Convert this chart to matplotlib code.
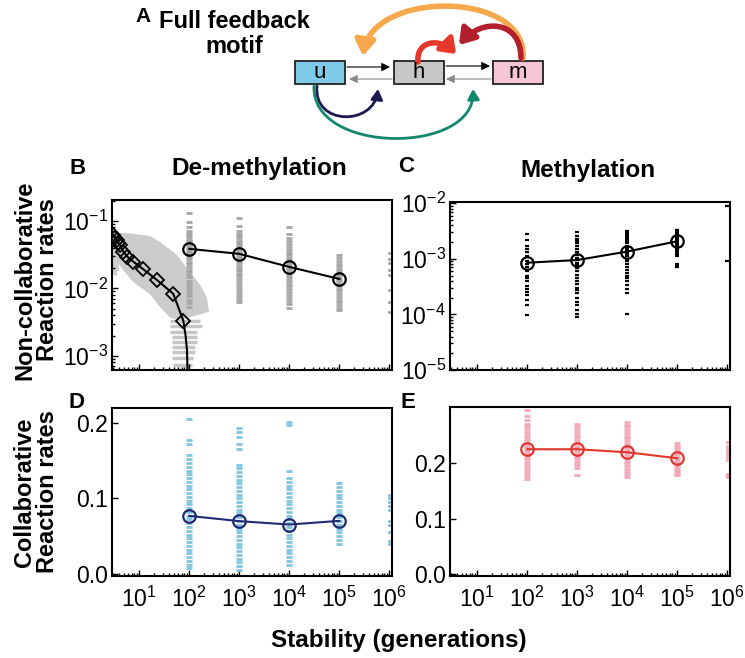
import numpy as np
import matplotlib
matplotlib.use('Agg')
import matplotlib.pyplot as plt
from matplotlib.patches import FancyArrowPatch, Rectangle
from matplotlib.path import Path
from matplotlib.ticker import LogLocator, NullFormatter

plt.rcParams['font.family'] = ['Liberation Sans', 'DejaVu Sans']
plt.rcParams['mathtext.fontset'] = 'custom'
plt.rcParams['mathtext.rm'] = 'Liberation Sans'
plt.rcParams['mathtext.it'] = 'Liberation Sans:italic'
plt.rcParams['mathtext.bf'] = 'Liberation Sans:bold'

################################################################################
# data
stab = [1e2, 1e3, 1e4, 1e5]          # stability (generations) of the columns
stab_tail = 1e6                     # sparse points at the right edge
x_ticks = [1e1, 1e2, 1e3, 1e4, 1e5, 1e6]
x_ticklabels = ['$10^{1}$', '$10^{2}$', '$10^{3}$', '$10^{4}$', '$10^{5}$', '$10^{6}$']

# B: de-methylation, non-collaborative
b_mean = [0.0385, 0.0325, 0.0208, 0.0138]
b_diam_x = [2.94, 3.27, 3.53, 3.8, 4.1, 4.79, 5.75, 7.6, 11.7, 22.3, 47.9, 75.9]
b_diam_y = [0.0621, 0.0566, 0.0524, 0.0478, 0.0441, 0.0351, 0.0296, 0.0249,
            0.0195, 0.0134, 0.0083, 0.00333]
b_tail_x = [83.9, 89.9, 92.9]
b_tail_y = [0.00205, 0.00123, 0.0005]
b_cloud_x = [2.84, 5.17, 16.4, 25.9, 56.8, 103, 164, 226, 248,
             65.2, 41.1, 25.9, 16.4, 7.48, 4.11, 2.84]
b_cloud_y = [0.0664, 0.0664, 0.060, 0.0489, 0.0313, 0.0175, 0.0113, 0.00723, 0.00449,
             0.0034, 0.0037, 0.0053, 0.0082, 0.0125, 0.0215, 0.0420]
b_streak_y = [0.0033, 0.00278, 0.00227, 0.00191, 0.00161, 0.00136, 0.00115, 0.00093, 0.00074]
b_streak_x0 = [41.1, 41.1, 41.1, 45.1, 45.1, 45.1, 45.1, 45.1, 47.2]
b_streak_x1 = [164, 180, 143, 143, 143, 130, 130, 118, 113]
b_edge_x = [3.1, 3.4, 3.7]
b_edge_y0 = [0.044, 0.042, 0.04]
b_edge_y1 = [0.016, 0.015, 0.018]
b_ticks = [1e-3, 1e-2, 1e-1]
b_ticklabels = ['$10^{-3}$', '$10^{-2}$', '$10^{-1}$']
b_pts = [
    [0.13, 0.095, 0.08, 0.072, 0.066, 0.061, 0.057, 0.053, 0.05, 0.047, 0.044, 0.041,
     0.039, 0.037, 0.035, 0.033, 0.031, 0.029, 0.027, 0.025, 0.023, 0.021, 0.019,
     0.0175, 0.016, 0.0145, 0.013, 0.0118, 0.0106, 0.0095, 0.0085, 0.0076, 0.0068,
     0.006, 0.0053],
    [0.11, 0.085, 0.072, 0.065, 0.06, 0.055, 0.051, 0.047, 0.044, 0.041, 0.038, 0.035,
     0.033, 0.031, 0.029, 0.027, 0.025, 0.023, 0.021, 0.0195, 0.018, 0.0165, 0.015,
     0.0137, 0.0125, 0.0113, 0.0102, 0.0092, 0.0083, 0.0075, 0.0068, 0.0062],
    [0.08, 0.064, 0.056, 0.05, 0.045, 0.041, 0.037, 0.034, 0.031, 0.028, 0.026, 0.024,
     0.022, 0.0202, 0.0185, 0.017, 0.0155, 0.0142, 0.013, 0.0118, 0.0107, 0.0097,
     0.0088, 0.008, 0.0072, 0.0065, 0.0058, 0.0052],
    [0.031, 0.028, 0.0255, 0.0233, 0.0213, 0.0195, 0.0178, 0.0163, 0.015, 0.0138,
     0.0127, 0.0117, 0.0107, 0.0098, 0.009, 0.0082, 0.0075, 0.0068, 0.0062, 0.0056,
     0.0051, 0.0047],
]
b_pts_tail = [0.034, 0.027, 0.024, 0.019, 0.016, 0.0095, 0.0062, 0.0045]

# C: methylation, non-collaborative
c_mean = [0.00085, 0.00095, 0.00135, 0.00207]
c_ticks = [1e-5, 1e-4, 1e-3, 1e-2]
c_ticklabels = ['$10^{-5}$', '$10^{-4}$', '$10^{-3}$', '$10^{-2}$']
c_pts = [
    [0.00283, 0.00216, 0.0017, 0.00149, 0.0013, 0.00113, 0.00092, 0.0008, 0.0007,
     0.00061, 0.0005, 0.00045, 0.0004, 0.00033, 0.00029, 0.00025, 0.00022, 0.000178,
     0.000145, 0.000096],
    [0.003, 0.0026, 0.0023, 0.0021, 0.0019, 0.0017, 0.0015, 0.0013, 0.00115, 0.00105,
     0.00095, 0.00085, 0.00076, 0.00068, 0.0006, 0.00052, 0.00046, 0.0004, 0.00035,
     0.0003, 0.00027, 0.00024, 0.0002, 0.00017, 0.00015, 0.00012, 0.0001, 0.00009],
    [0.0031, 0.0029, 0.0027, 0.0025, 0.0023, 0.0021, 0.0019, 0.0017, 0.0016, 0.0015,
     0.0014, 0.0013, 0.0012, 0.0011, 0.001, 0.0009, 0.0008, 0.0007, 0.00062, 0.00055,
     0.0005, 0.00045, 0.0004, 0.00034, 0.00029, 0.00024, 0.0001],
    [0.0033, 0.0031, 0.0029, 0.0027, 0.0025, 0.0024, 0.0023, 0.0022, 0.0021, 0.002,
     0.0019, 0.0018, 0.0017, 0.0016, 0.0015, 0.0014, 0.0013, 0.0012, 0.0011, 0.00082,
     0.00076, 0.0007],
]
c_pts_tail = [0.0088, 0.00092]

# D: de-methylation, collaborative
d_mean = [0.0768, 0.0698, 0.0653, 0.0702]
d_pts = [
    [0.205, 0.178, 0.172, 0.157, 0.152, 0.147, 0.142, 0.137, 0.132, 0.127, 0.122, 0.117,
     0.112, 0.107, 0.102, 0.097, 0.092, 0.087, 0.082, 0.077, 0.072, 0.067, 0.062, 0.057,
     0.052, 0.047, 0.042, 0.037, 0.032, 0.027, 0.022, 0.017, 0.012, 0.007],
    [0.193, 0.188, 0.182, 0.172, 0.165, 0.145, 0.14, 0.135, 0.13, 0.125, 0.12, 0.115,
     0.11, 0.105, 0.1, 0.095, 0.09, 0.085, 0.08, 0.075, 0.07, 0.065, 0.06, 0.055, 0.05,
     0.045, 0.04, 0.035, 0.03, 0.025, 0.02, 0.015, 0.01, 0.005],
    [0.202, 0.197, 0.137, 0.127, 0.122, 0.117, 0.112, 0.107, 0.102, 0.097, 0.092, 0.087,
     0.082, 0.077, 0.072, 0.067, 0.062, 0.057, 0.052, 0.047, 0.042, 0.037, 0.032, 0.027,
     0.022, 0.017, 0.012],
    [0.12, 0.115, 0.11, 0.105, 0.1, 0.095, 0.09, 0.085, 0.08, 0.075, 0.07, 0.065, 0.06,
     0.055, 0.05, 0.045, 0.04],
]
d_pts_tail = [0.105, 0.1, 0.095, 0.09, 0.085, 0.07, 0.065, 0.055, 0.043, 0.04]

# E: methylation, collaborative
e_mean = [0.2255, 0.2255, 0.220, 0.2092]
e_pts = [
    [0.297, 0.285, 0.278, 0.272, 0.267, 0.262, 0.257, 0.252, 0.247, 0.242, 0.237, 0.232,
     0.227, 0.222, 0.217, 0.212, 0.207, 0.202, 0.197, 0.192, 0.187, 0.182, 0.177, 0.172],
    [0.272, 0.267, 0.262, 0.257, 0.252, 0.247, 0.242, 0.237, 0.232, 0.227, 0.222, 0.217,
     0.212, 0.207, 0.202, 0.197, 0.192, 0.178],
    [0.275, 0.27, 0.265, 0.26, 0.255, 0.25, 0.245, 0.24, 0.235, 0.23, 0.225, 0.22,
     0.215, 0.21, 0.205, 0.2, 0.195, 0.19, 0.185, 0.18, 0.176],
    [0.236, 0.232, 0.228, 0.224, 0.22, 0.216, 0.212, 0.208, 0.204, 0.2, 0.196, 0.192,
     0.188, 0.184, 0.18, 0.178],
]
e_pts_tail = [0.238, 0.232, 0.226, 0.221, 0.216, 0.211, 0.206, 0.181, 0.177, 0.175]

lin_ticks = [0.0, 0.1, 0.2]
lin_ticklabels = ['0.0', '0.1', '0.2']
xlims = (2.85, 1.13e6)


################################################################################
def strips(ax, xs, ys, color, ms=4.5, mew=2.0):
    for x, yv in zip(xs, ys):
        ax.plot(np.full(len(yv), x), yv, ls='none', marker='_', ms=ms, mew=mew,
                color=color, zorder=2)


def style(ax, labelbottom):
    for sp in ax.spines.values():
        sp.set_linewidth(1.5)
    ax.set_xscale('log')
    ax.set_xlim(*xlims)
    ax.set_xticks(x_ticks)
    ax.xaxis.set_minor_locator(LogLocator(base=10, subs=np.arange(2, 10), numticks=20))
    ax.xaxis.set_minor_formatter(NullFormatter())
    if labelbottom:
        ax.set_xticklabels(x_ticklabels, fontsize=16.5)
    else:
        ax.set_xticklabels([])
    ax.tick_params(which='both', direction='in', top=False, right=False, width=1)
    ax.tick_params(which='major', length=4)
    ax.tick_params(which='minor', length=2.5)
    ax.tick_params(axis='x', pad=8)
    ax.tick_params(axis='y', pad=3)


def log_y(ax, ticks, labels):
    ax.set_yscale('log')
    ax.set_yticks(ticks)
    ax.set_yticklabels(labels, fontsize=16.5)
    ax.yaxis.set_minor_locator(LogLocator(base=10, subs=np.arange(2, 10), numticks=20))
    ax.yaxis.set_minor_formatter(NullFormatter())
    ax.tick_params(which='both', direction='in', right=False)


fig = plt.figure(figsize=(7.45, 6.58), dpi=100)

# overlay for the motif diagram and free text (pixel coords)
ov = fig.add_axes([0, 0, 1, 1])
ov.set_xlim(0, 745)
ov.set_ylim(658, 0)
ov.axis('off')

#############################################################
# B
axB = fig.add_axes([112/745, 1-370/658, 280/745, 170/658])
style(axB, False)
log_y(axB, b_ticks, b_ticklabels)
axB.fill(b_cloud_x, b_cloud_y, color='#cbcbcb', lw=0, zorder=1)
axB.hlines(b_streak_y, b_streak_x0, b_streak_x1, color='#c6c6c6', lw=2.5, zorder=1)
axB.vlines(b_edge_x, b_edge_y1, b_edge_y0, color='#c6c6c6', lw=1.2, zorder=1)
strips(axB, stab, b_pts, '#a6a6a6')
axB.plot(np.full(len(b_pts_tail), stab_tail), b_pts_tail, ls='none', marker='.',
         ms=2.5, color='#a6a6a6')
axB.plot(b_diam_x + b_tail_x, b_diam_y + b_tail_y, color='k', lw=1.5, zorder=3)
axB.plot(b_diam_x, b_diam_y, ls='none', marker='D', ms=7, mfc='none', mec='k',
         mew=1.3, zorder=4)
axB.plot(stab, b_mean, color='k', lw=1.5, marker='o', ms=9, mfc='none', mec='k',
         mew=1.6, zorder=4)
axB.set_ylim(10**-3.21, 10**-0.69)

#############################################################
# C
axC = fig.add_axes([450/745, 1-370/658, 280/745, 168/658])
style(axC, False)
log_y(axC, c_ticks, c_ticklabels)
strips(axC, stab, c_pts, 'k', ms=3.5, mew=1.6)
axC.plot([stab_tail]*len(c_pts_tail), c_pts_tail, ls='none', marker='_', ms=3,
         mew=1.6, color='k')
axC.plot(stab, c_mean, color='k', lw=1.5, marker='o', ms=9, mfc='none', mec='k',
         mew=1.6, zorder=4)
axC.set_ylim(1e-5, 1.05e-2)

#############################################################
# D
axD = fig.add_axes([112/745, 1-576/658, 280/745, 168/658])
style(axD, True)
strips(axD, stab, d_pts, '#7ec5df')
axD.plot([stab_tail]*len(d_pts_tail), d_pts_tail, ls='none', marker='.', ms=2.5,
         color='#7ec5df')
axD.plot(stab, d_mean, color='#1f2a74', lw=1.5, marker='o', ms=9, mfc='none',
         mec='#1f2a74', mew=1.6, zorder=4)
axD.set_ylim(-0.003, 0.22)
axD.set_yticks(lin_ticks)
axD.set_yticklabels(lin_ticklabels, fontsize=16.5)

#############################################################
# E
axE = fig.add_axes([450/745, 1-576/658, 280/745, 169/658])
style(axE, True)
strips(axE, stab, e_pts, '#f3a8ba')
axE.plot([stab_tail]*len(e_pts_tail), e_pts_tail, ls='none', marker='.', ms=2.5,
         color='#f3a8ba')
axE.plot(stab, e_mean, color='#e0362c', lw=1.5, marker='o', ms=9, mfc='none',
         mec='#e0362c', mew=1.6, zorder=4)
axE.set_ylim(-0.004, 0.302)
axE.set_yticks(lin_ticks)
axE.set_yticklabels(lin_ticklabels, fontsize=16.5)

#############################################################
# text
bold = dict(fontweight='bold', ha='center', va='center')
ov.text(78, 168, 'B', fontsize=16, **bold)
ov.text(406, 167, 'C', fontsize=16, **bold)
ov.text(76, 403, 'D', fontsize=16, **bold)
ov.text(408, 403, 'E', fontsize=16, **bold)
ov.text(143, 17, 'A', fontsize=15, **bold)
ov.text(259, 169, 'De-methylation', fontsize=17.5, **bold)
ov.text(588, 170, 'Methylation', fontsize=17.5, **bold)
ov.text(36, 280, 'Non-collaborative\nReaction rates', fontsize=17, rotation=90,
        linespacing=1.0, **bold)
ov.text(36, 492, 'Collaborative\nReaction rates', fontsize=17, rotation=90,
        linespacing=1.0, **bold)
ov.text(399, 640, 'Stability (generations)', fontsize=17.5, **bold)
ov.text(234, 34, 'Full feedback\nmotif', fontsize=17, linespacing=1.15, **bold)

#############################################################
# motif diagram
boxes = [(295, 'u', '#7dcbe9'), (394, 'h', '#c9c7c5'), (493, 'm', '#f7c6d4')]
for bx, name, col in boxes:
    ov.add_patch(Rectangle((bx, 61), 50, 23, facecolor=col, edgecolor='#222222', lw=1.3))
    ov.text(bx + 25, 72, name, fontsize=16, ha='center', va='center')

def arr(p0, p1, col, lw=0.8):
    ov.add_patch(FancyArrowPatch(p0, p1, arrowstyle='-|>,head_length=5,head_width=2.5',
                                 color=col, lw=lw, shrinkA=0, shrinkB=0))

arr((347, 67), (390, 67), 'k')
arr((392, 79), (349, 79), '#8a8a8a')
arr((446, 66), (490, 66), 'k')
arr((491, 79), (446, 79), '#8a8a8a')

def curve(pts, col, lw, hl, hw):
    path = Path(pts, [Path.MOVETO, Path.CURVE4, Path.CURVE4, Path.CURVE4])
    ov.add_patch(FancyArrowPatch(path=path, color=col, lw=lw,
                                 arrowstyle='-|>,head_length=%g,head_width=%g' % (hl, hw)))

curve([(523, 58), (528, -10), (372, -10), (363, 56)], '#f8a84c', 4, 9, 6)
curve([(521, 58), (521, 20), (482, 18), (459, 45)], '#b3202d', 4, 9, 6)
curve([(418, 62), (416, 40), (440, 38), (456, 54)], '#e6392b', 4, 8, 6)
curve([(317, 86), (313, 126), (374, 126), (378, 89)], '#1c1a50', 2, 6, 3.5)
curve([(314, 86), (311, 155), (476, 155), (473, 89)], '#13876b', 2, 6, 3.5)

plt.savefig('out.png', dpi=100)
